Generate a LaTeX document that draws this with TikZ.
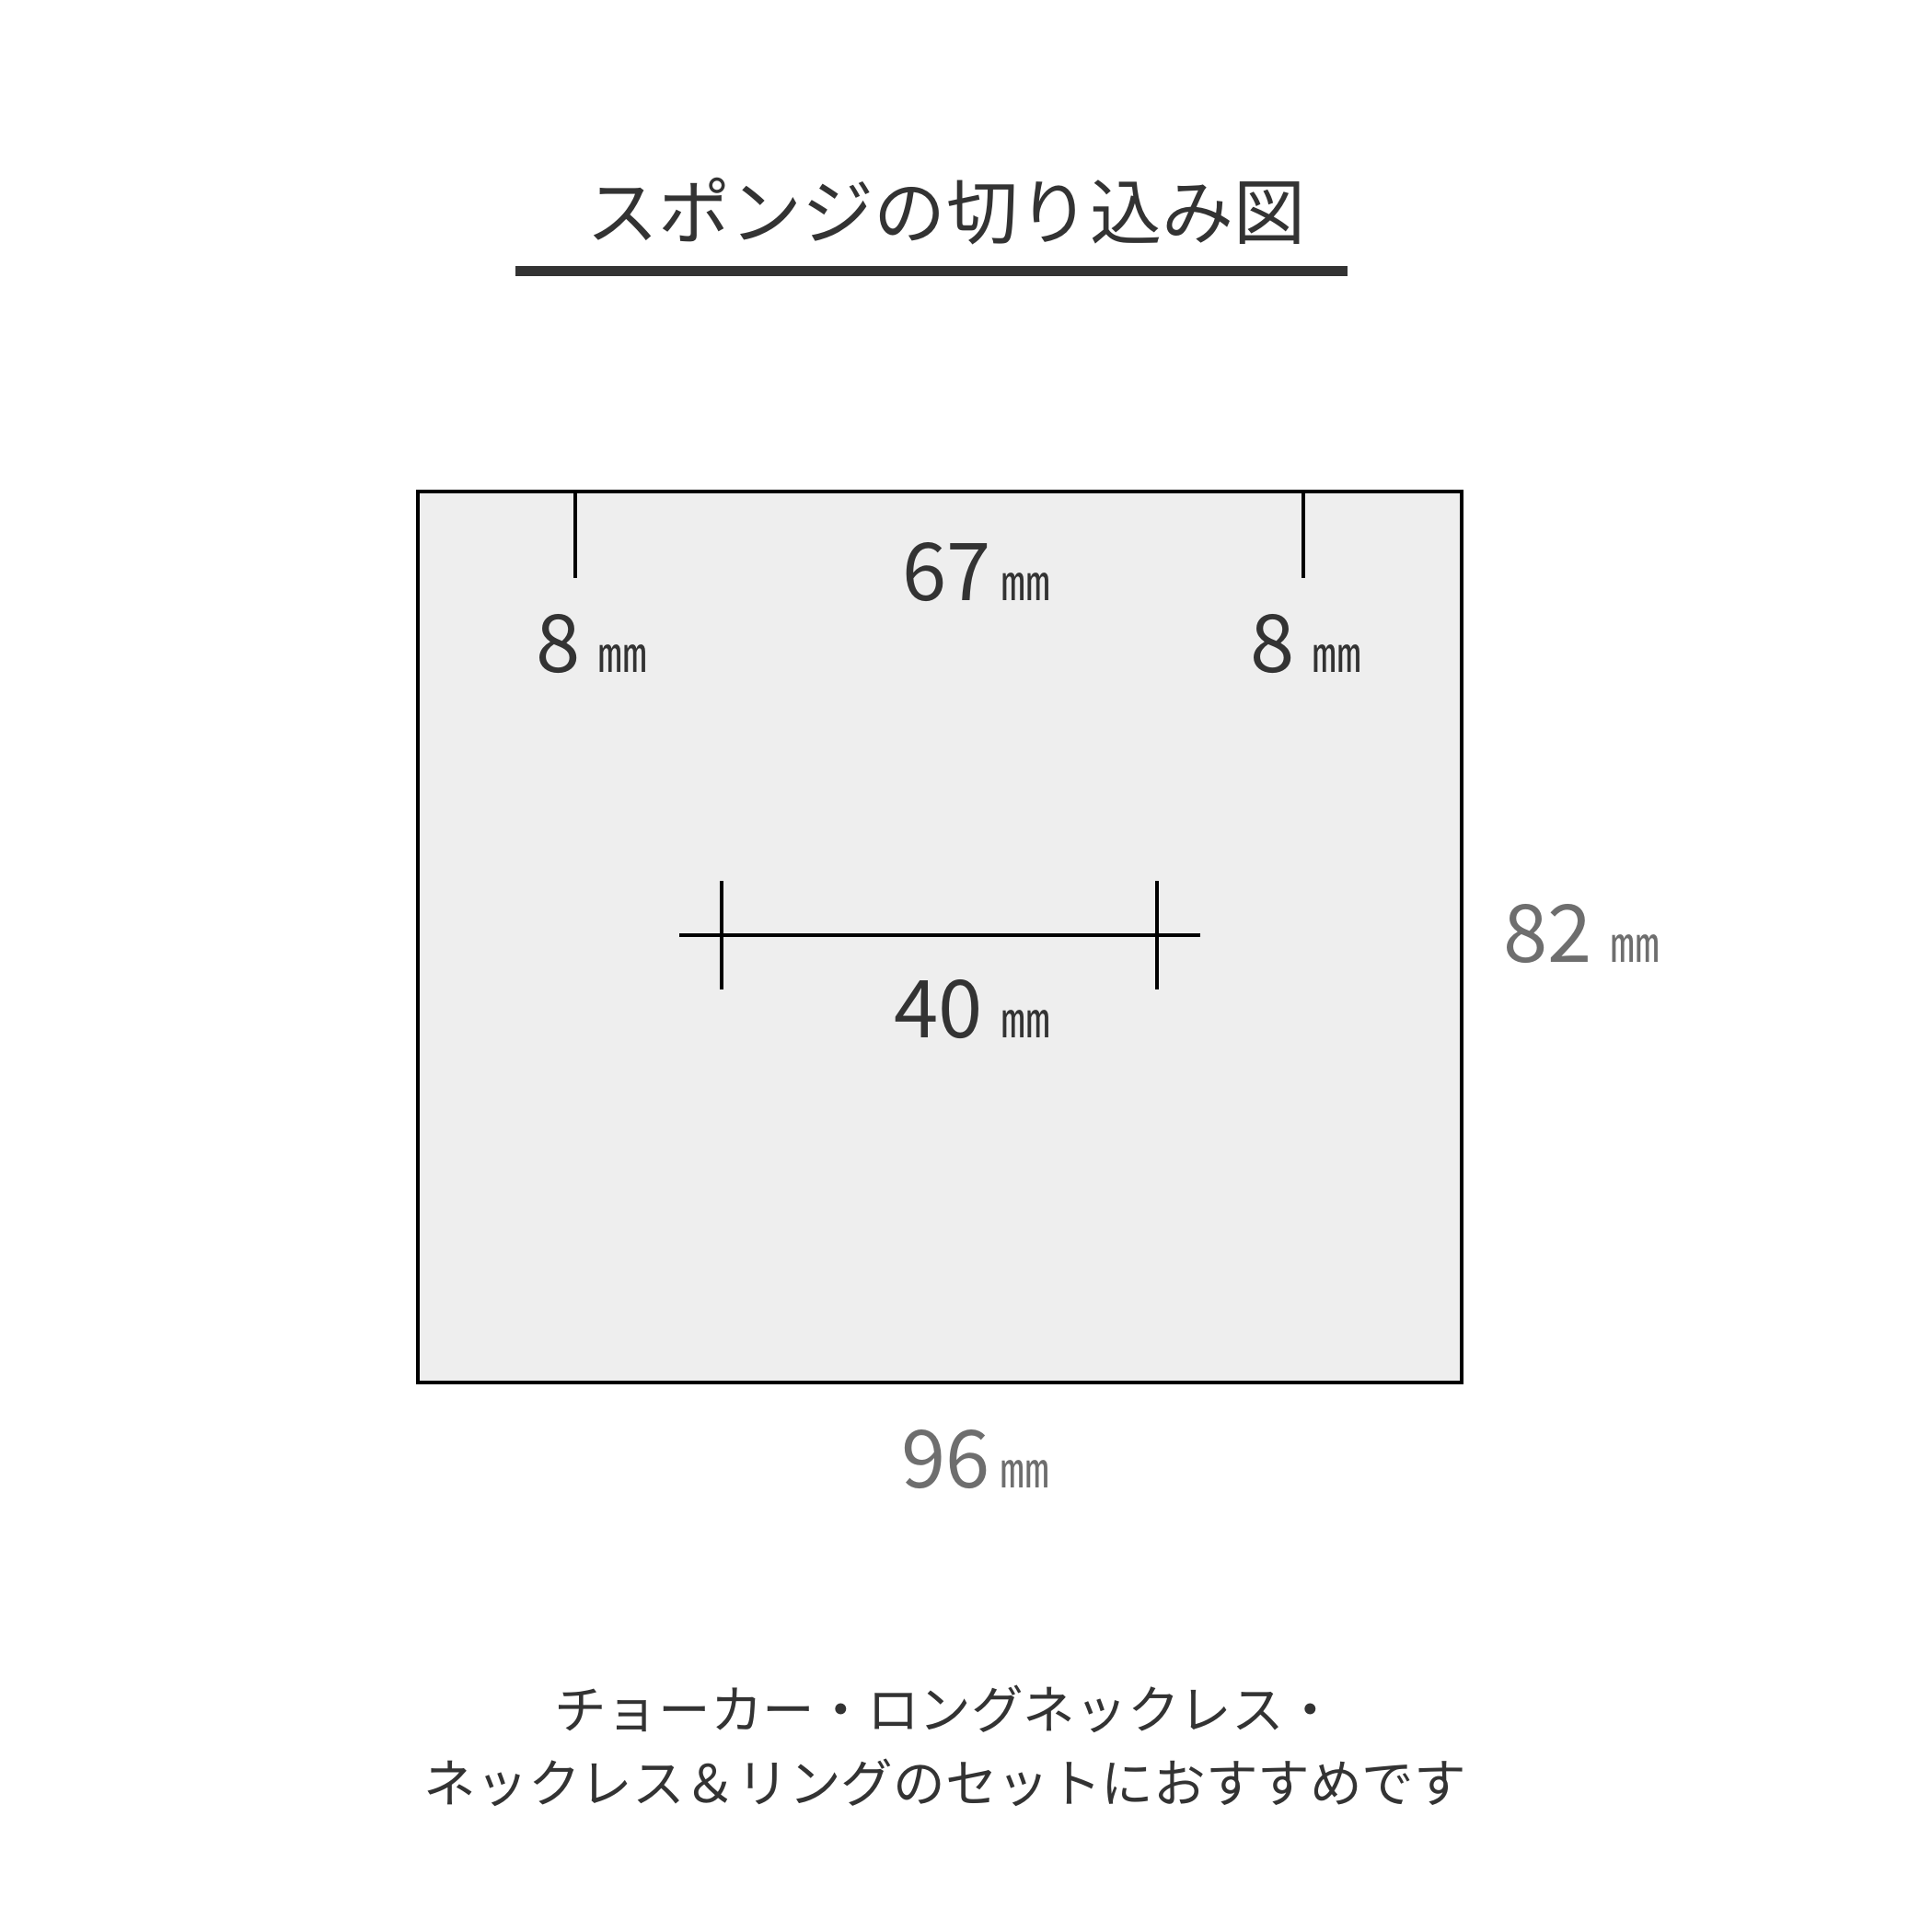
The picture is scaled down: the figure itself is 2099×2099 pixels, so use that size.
\documentclass[tikz,border=0pt]{standalone}
\usepackage{fontspec}
\setmainfont{Noto Sans CJK JP}
\definecolor{inkgray}{HTML}{333333}
\definecolor{dimgray}{HTML}{6E6E6E}
\definecolor{spongefill}{HTML}{EEEEEE}
\newcommand{\mmunit}{{\fontsize{15.3pt}{16pt}\selectfont ㎜}}
\tikzset{
  dimtext/.style={font=\fontsize{24.7pt}{26pt}\selectfont, text=inkgray, anchor=base, inner sep=0pt},
  cutline/.style={line width=1pt}
}

\begin{document}
\begin{tikzpicture}[x=0.01cm,y=-0.01cm]
        \useasboundingbox (0,0) rectangle (2099,2099);
        % title and its underline
        \node[font=\fontsize{22.2pt}{26pt}\selectfont, text=inkgray] (title) at (1028,230) {スポンジの切り込み図};
        \coordinate (ulL) at (560,294.5);
        \coordinate (ulR) at (1464,294.5);
        \draw[inkgray, line width=11*0.01cm] (ulL) -- (ulR);
        % sponge
        \coordinate (spTL) at (454,534);
        \coordinate (spBR) at (1588,1502);
        \draw[cutline, fill=spongefill] (spTL) rectangle (spBR);
        \coordinate (cutA) at (625,534);
        \coordinate (cutA') at (625,628);
        \coordinate (cutB) at (1416,534);
        \coordinate (cutB') at (1416,628);
        \draw[cutline] (cutA) -- (cutA');
        \draw[cutline] (cutB) -- (cutB');
        % slit in the middle
        \coordinate (slitL) at (738,1016);
        \coordinate (slitR) at (1304,1016);
        \draw[cutline] (slitL) -- (slitR);
        \draw[cutline] (784,957) -- (784,1075);
        \draw[cutline] (1257,957) -- (1257,1075);
        % sizes
        \node[dimtext] (edgeL) at (643,730) {8 \mmunit};
        \node[dimtext] (gap) at (1061,652) {67\hspace{0.12em}\mmunit};
        \node[dimtext] (edgeR) at (1419,730) {8 \mmunit};
        \node[dimtext] (slit) at (1056,1127) {40 \mmunit};
        \node[dimtext, text=dimgray] (height) at (1718,1045) {82 \mmunit};
        \node[dimtext, text=dimgray] (width) at (1060,1616) {96\hspace{0.12em}\mmunit};
        % note
        \node[font=\fontsize{16.1pt}{18pt}\selectfont, text=inkgray] (note1) at (1027,1857) {チョーカー・ロングネックレス・};
        \node[font=\fontsize{16.1pt}{18pt}\selectfont, text=inkgray] (note2) at (1027,1937) {ネックレス＆リングのセットにおすすめです};
    \end{tikzpicture}
\end{document}
